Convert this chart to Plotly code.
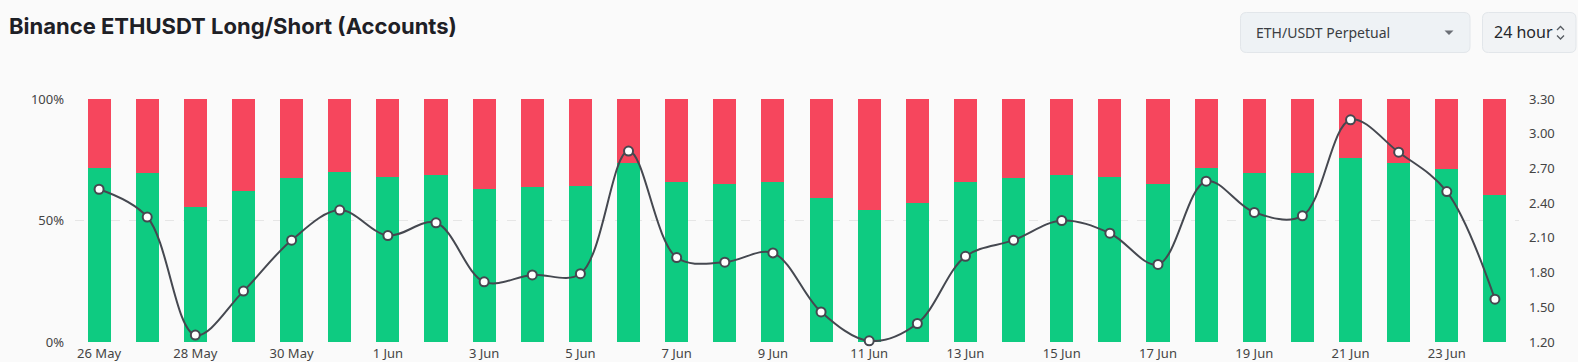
import plotly.graph_objects as go

dates = ["26 May", "27 May", "28 May", "29 May", "30 May", "31 May",
         "1 Jun", "2 Jun", "3 Jun", "4 Jun", "5 Jun", "6 Jun", "7 Jun",
         "8 Jun", "9 Jun", "10 Jun", "11 Jun", "12 Jun", "13 Jun", "14 Jun",
         "15 Jun", "16 Jun", "17 Jun", "18 Jun", "19 Jun", "20 Jun",
         "21 Jun", "22 Jun", "23 Jun", "24 Jun"]
long_pct = [71.5, 69.4, 55.4, 62.0, 67.4, 69.8, 67.8, 68.7, 63.0, 63.8,
            64.1, 73.8, 65.7, 65.0, 66.0, 59.1, 54.3, 57.3, 65.7, 67.4,
            68.9, 68.0, 64.9, 71.7, 69.7, 69.4, 75.6, 73.8, 71.3, 60.6]
short_pct = [round(100 - v, 1) for v in long_pct]
ratio = [2.52, 2.28, 1.26, 1.64, 2.08, 2.34, 2.12, 2.23, 1.72, 1.78,
         1.79, 2.85, 1.93, 1.89, 1.97, 1.46, 1.21, 1.36, 1.94, 2.08,
         2.25, 2.14, 1.87, 2.59, 2.32, 2.29, 3.12, 2.84, 2.50, 1.57]
left_ticks = [0, 50, 100]
left_labels = ["0%", "50%", "100%"]
right_ticks = [1.2, 1.5, 1.8, 2.1, 2.4, 2.7, 3.0, 3.3]

W, H = 1578, 362
L, R, T, B = 75, 59, 99, 20
PW, PH = W - L - R, H - T - B

def px(x):
    return (x - L) / PW

def py(y):
    return 1 - (y - T) / PH

GREEN = "#0ecb81"
RED = "#f6465d"
LINE = "#454850"

fig = go.Figure()
fig.add_trace(go.Bar(x=dates, y=long_pct, marker_color=GREEN, marker_line_width=0,
                     name="Long", hoverinfo="y"))
fig.add_trace(go.Bar(x=dates, y=short_pct, marker_color=RED, marker_line_width=0,
                     name="Short", hoverinfo="y"))
fig.add_trace(go.Scatter(x=dates, y=ratio, yaxis="y2", mode="lines+markers",
                         line=dict(color=LINE, width=2, shape="spline", smoothing=1.0),
                         marker=dict(size=9, color="white", line=dict(color=LINE, width=2)),
                         name="Ratio", cliponaxis=False))

def rrect(x0, y0, x1, y1, r):
    def P(x, y):
        return f"{px(x):.5f},{py(y):.5f}"
    return (f"M {P(x0 + r, y0)} L {P(x1 - r, y0)} Q {P(x1, y0)} {P(x1, y0 + r)} "
            f"L {P(x1, y1 - r)} Q {P(x1, y1)} {P(x1 - r, y1)} L {P(x0 + r, y1)} "
            f"Q {P(x0, y1)} {P(x0, y1 - r)} L {P(x0, y0 + r)} Q {P(x0, y0)} {P(x0 + r, y0)} Z")

def poly(pts, close=False):
    s = "M " + " L ".join(f"{px(x):.5f},{py(y):.5f}" for x, y in pts)
    return s + (" Z" if close else "")

shapes = [
    dict(type="path", xref="paper", yref="paper", path=rrect(1240.5, 12.5, 1470, 52.5, 6),
         fillcolor="#eef2f5", line=dict(color="#e2e6ea", width=1), layer="above"),
    dict(type="path", xref="paper", yref="paper", path=rrect(1482.5, 12.5, 1576, 52.5, 6),
         fillcolor="#f1f3f5", line=dict(color="#e2e6ea", width=1), layer="above"),
    dict(type="path", xref="paper", yref="paper",
         path=poly([(1444.5, 30.5), (1453.5, 30.5), (1449, 35)], close=True),
         fillcolor="#6b6f76", line=dict(width=0), layer="above"),
    dict(type="path", xref="paper", yref="paper",
         path=poly([(1557, 30), (1560.5, 26.5), (1564, 30)]),
         line=dict(color="#555a60", width=1.3), layer="above"),
    dict(type="path", xref="paper", yref="paper",
         path=poly([(1557, 35.5), (1560.5, 39), (1564, 35.5)]),
         line=dict(color="#555a60", width=1.3), layer="above"),
]

annotations = [
    dict(text="<b>Binance ETHUSDT Long/Short (Accounts)</b>", xref="paper", yref="paper",
         x=px(7), y=py(26), xanchor="left", yanchor="middle", showarrow=False,
         font=dict(family="Inter", size=22, color="#1e2026")),
    dict(text="ETH/USDT Perpetual", xref="paper", yref="paper",
         x=px(1254), y=py(32), xanchor="left", yanchor="middle", showarrow=False,
         font=dict(family="Noto Sans", size=14, color="#3a3d42")),
    dict(text="24 hour", xref="paper", yref="paper",
         x=px(1492), y=py(32), xanchor="left", yanchor="middle", showarrow=False,
         font=dict(family="Noto Sans", size=16, color="#24272b")),
]

fig.update_layout(
    width=W, height=H,
    margin=dict(l=L, r=R, t=T, b=B, autoexpand=False),
    paper_bgcolor="#fafafa", plot_bgcolor="#fafafa",
    barmode="stack", bargap=0.52,
    showlegend=False,
    font=dict(family="Noto Sans", size=13, color="#444"),
    xaxis=dict(type="category", range=[-0.5, len(dates) - 0.5],
               tickvals=dates[::2], ticktext=dates[::2],
               showgrid=False, zeroline=False, showline=False, ticks="",
               tickfont=dict(size=13, color="#444"), ticklabelstandoff=2),
    yaxis=dict(range=[0, 100], tickvals=left_ticks, ticktext=left_labels,
               showgrid=True, gridcolor="#e6e6e6", griddash="dash", gridwidth=1,
               zeroline=False, showline=False, ticks="",
               tickfont=dict(size=13, color="#444"), ticklabelstandoff=10),
    yaxis2=dict(range=[1.2, 3.3], tickvals=right_ticks, tickformat=".2f",
                overlaying="y", side="right", showgrid=False, zeroline=False,
                showline=False, ticks="", tickfont=dict(size=13, color="#444"),
                ticklabelstandoff=9),
    shapes=shapes,
    annotations=annotations,
)

fig.write_html("out.html")
